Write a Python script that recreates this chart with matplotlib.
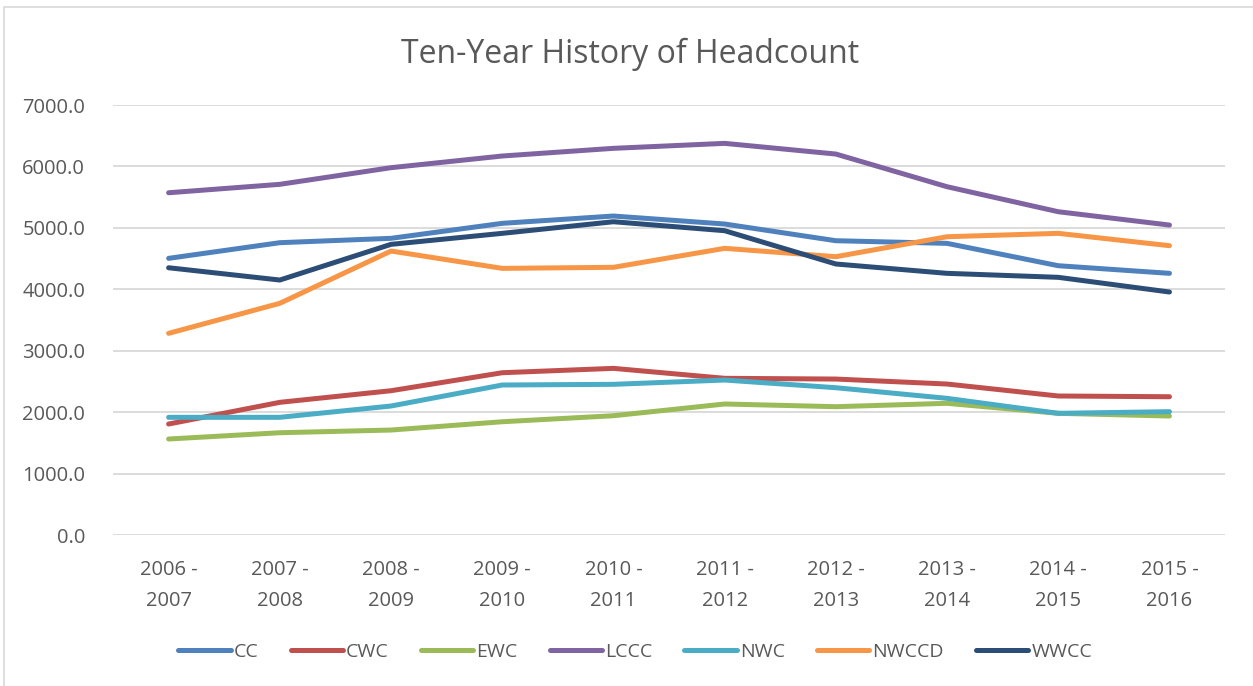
import matplotlib.pyplot as plt
from matplotlib.patches import Rectangle

# categories (school years)
years = ["2006 -\n2007", "2007 -\n2008", "2008 -\n2009", "2009 -\n2010", "2010 -\n2011",
         "2011 -\n2012", "2012 -\n2013", "2013 -\n2014", "2014 -\n2015", "2015 -\n2016"]

# headcount per college
cc = [4504, 4759, 4830, 5074, 5193, 5063, 4791, 4748, 4384, 4260]
cwc = [1807, 2160, 2349, 2642, 2713, 2551, 2539, 2458, 2263, 2251]
ewc = [1563, 1665, 1709, 1844, 1942, 2133, 2089, 2144, 1981, 1937]
lccc = [5572, 5709, 5980, 6170, 6295, 6376, 6202, 5670, 5263, 5046]
nwc = [1916, 1916, 2100, 2442, 2453, 2523, 2398, 2225, 1981, 2008]
nwccd = [3283, 3772, 4623, 4341, 4358, 4667, 4531, 4856, 4911, 4710]
wwcc = [4351, 4151, 4732, 4911, 5100, 4954, 4412, 4260, 4195, 3956]

series = [("CC", cc, "#4F81BD"), ("CWC", cwc, "#C0504D"), ("EWC", ewc, "#9BBB59"),
          ("LCCC", lccc, "#8064A2"), ("NWC", nwc, "#4BACC6"),
          ("NWCCD", nwccd, "#F79646"), ("WWCC", wwcc, "#2C4D75")]

plt.rcParams['font.family'] = ['Open Sans', 'DejaVu Sans']
txt = "#595959"

fig = plt.figure(figsize=(12.53, 6.86), dpi=100)
ax = fig.add_axes([0.0902, 0.2201, 0.8875, 0.6268])

x = range(len(years))
for name, vals, col in series:
    ax.plot(x, vals, color=col, lw=3.6, solid_capstyle='round', solid_joinstyle='round', label=name)

ax.set_xlim(-0.5, len(years) - 0.5)
ax.set_ylim(0, 7000)
ax.set_yticks(range(0, 7001, 1000))
ax.set_yticklabels([f"{v:.1f}" for v in range(0, 7001, 1000)])
ax.set_xticks(list(x))
ax.set_xticklabels(years, linespacing=1.75)
ax.tick_params(colors=txt, labelsize=14.5, length=0)
ax.tick_params(axis='x', pad=18)
ax.tick_params(axis='y', pad=20)
ax.grid(axis='y', color="#D9D9D9", lw=1.3)
ax.set_axisbelow(True)
for s in ax.spines.values():
    s.set_visible(False)

fig.suptitle("Ten-Year History of Headcount", x=0.503, y=0.945, fontsize=23, color=txt)

leg = fig.legend(loc='center', bbox_to_anchor=(0.507, 0.05), ncol=7, frameon=False,
                 fontsize=14, labelcolor=txt, handlelength=2.7, handletextpad=0.15,
                 columnspacing=1.65)
for h in leg.get_lines():
    h.set_solid_capstyle('round')

# chart area border
fig.patches.append(Rectangle((0.003, -0.01), 1.2, 1.0, transform=fig.transFigure,
                             fill=False, edgecolor="#D9D9D9", lw=1.2))

fig.savefig("out.png", dpi=100)
